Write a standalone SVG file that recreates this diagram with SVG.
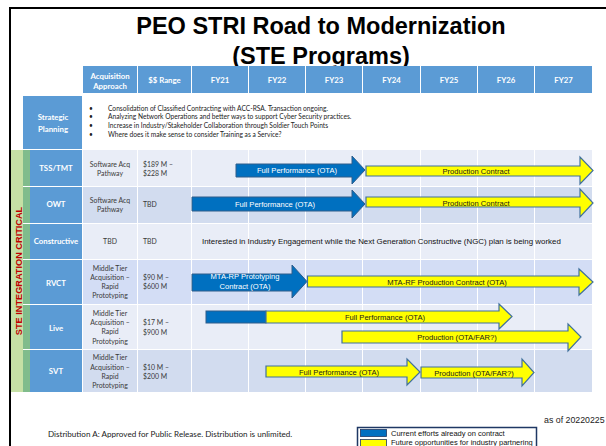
<svg xmlns="http://www.w3.org/2000/svg" width="606" height="446" viewBox="0 0 606 446">
<defs>
<style>
.hdr{fill:#5B9BD5}
.lbl{fill:#5B9BD5}
.ht{font-family:Lato,"Liberation Sans",sans-serif;font-weight:bold;font-size:7.8px;fill:#fff;text-anchor:middle}
.lt{font-family:Lato,"Liberation Sans",sans-serif;font-weight:bold;font-size:7.8px;fill:#fff;text-anchor:middle}
.ct{font-family:Lato,"Liberation Sans",sans-serif;font-size:6.9px;fill:#3a3a3a;text-anchor:middle}
.rt{font-family:Lato,"Liberation Sans",sans-serif;font-size:6.9px;fill:#3a3a3a}
.bt{font-family:Lato,"Liberation Sans",sans-serif;font-size:6.65px;fill:#222}
.rl{fill:#E9EDF7}
.rd{fill:#D2DCEF}
.rv{fill:#D3DDF5}
.dg{fill:#80BC8C}
.blue{fill:#0070C0;stroke:#2E5C8A;stroke-width:1}
.yel{fill:#FFFF00;stroke:#41719C;stroke-width:1.2}
.at{font-family:"Liberation Sans",Arial,sans-serif;font-size:7.6px;text-anchor:middle}
.aw{fill:#fff}
.ay{fill:#1a1a1a}
.grid{stroke:#fff;stroke-width:1}
</style>
</defs>
<rect width="606" height="446" fill="#fff"/>
<g id="frame">
<line x1="10" y1="8" x2="606" y2="8" stroke="#000" stroke-width="2"/>
<line x1="10" y1="7" x2="10" y2="446" stroke="#000" stroke-width="2"/>
</g>
<g id="title" font-family="'Liberation Sans',Arial,sans-serif" font-weight="bold" font-size="23.5" text-anchor="middle" fill="#000">
<text x="321" y="34">PEO STRI Road to Modernization</text>
<text x="321" y="64">(STE Programs)</text>
</g>
<g id="header">
<rect class="hdr" x="83" y="66" width="54" height="27"/>
<rect class="hdr" x="138" y="66" width="53" height="27"/>
<rect class="hdr" x="192" y="66" width="56" height="27"/>
<rect class="hdr" x="249" y="66" width="56" height="27"/>
<rect class="hdr" x="306" y="66" width="56" height="27"/>
<rect class="hdr" x="363" y="66" width="57" height="27"/>
<rect class="hdr" x="421" y="66" width="56" height="27"/>
<rect class="hdr" x="478" y="66" width="56" height="27"/>
<rect class="hdr" x="535" y="66" width="57" height="27"/>
<text class="ht" x="110" y="78.5">Acquisition</text>
<text class="ht" x="110" y="89">Approach</text>
<text class="ht" x="164.5" y="83">$$ Range</text>
<text class="ht" x="220" y="83">FY21</text>
<text class="ht" x="277" y="83">FY22</text>
<text class="ht" x="334" y="83">FY23</text>
<text class="ht" x="391.5" y="83">FY24</text>
<text class="ht" x="449" y="83">FY25</text>
<text class="ht" x="506" y="83">FY26</text>
<text class="ht" x="563.5" y="83">FY27</text>
</g>
<g id="strategic">
<rect class="lbl" x="23" y="96" width="59" height="53"/>
<text class="lt" x="53" y="120">Strategic</text>
<text class="lt" x="53" y="132">Planning</text>
<g class="bt">
<text x="89" y="110.5">•</text><text x="108" y="110.5">Consolidation of Classified Contracting with ACC-RSA. Transaction ongoing.</text>
<text x="89" y="119.3">•</text><text x="108" y="119.3">Analyzing Network Operations and better ways to support Cyber Security practices.</text>
<text x="89" y="128.1">•</text><text x="108" y="128.1">Increase in Industry/Stakeholder Collaboration through Soldier Touch Points</text>
<text x="89" y="137">•</text><text x="108" y="137">Where does it make sense to consider Training as a Service?</text>
</g>
</g>
<g id="ste-critical">
<rect x="11" y="150" width="12" height="242" fill="#C5E0A5"/>
<text x="22" y="271" transform="rotate(-90 22 271)" font-family="'Liberation Sans',Arial,sans-serif" font-weight="bold" font-size="9.2" fill="#C00000" text-anchor="middle">STE INTEGRATION CRITICAL</text>
</g>
<g id="row-tss">
<rect class="dg" x="23" y="150" width="7" height="36"/>
<rect class="lbl" x="30" y="150" width="52" height="36"/>
<rect class="rl" x="83" y="150" width="509" height="36"/>
<text class="lt" x="56" y="171">TSS/TMT</text>
<text class="ct" x="110" y="166.5">Software Acq</text>
<text class="ct" x="110" y="175.5">Pathway</text>
<text class="rt" x="143" y="166.5">$189 M –</text>
<text class="rt" x="143" y="175.5">$228 M</text>
</g>
<g id="row-owt">
<rect class="dg" x="23" y="187" width="7" height="36"/>
<rect class="lbl" x="30" y="187" width="52" height="36"/>
<rect class="rd" x="83" y="187" width="509" height="36"/>
<text class="lt" x="56" y="207">OWT</text>
<text class="ct" x="110" y="203">Software Acq</text>
<text class="ct" x="110" y="212">Pathway</text>
<text class="rt" x="143" y="206.5">TBD</text>
</g>
<g id="row-constructive">
<rect class="dg" x="23" y="224" width="7" height="35"/>
<rect class="lbl" x="30" y="224" width="52" height="35"/>
<rect class="rl" x="83" y="224" width="509" height="35"/>
<text class="lt" x="56" y="243.5">Constructive</text>
<text class="ct" x="110" y="243.5">TBD</text>
<text class="rt" x="143" y="243.5">TBD</text>
</g>
<g id="row-rvct">
<rect class="dg" x="23" y="260" width="7" height="44"/>
<rect class="lbl" x="30" y="260" width="52" height="44"/>
<rect class="rv" x="83" y="260" width="509" height="44"/>
<text class="lt" x="56" y="285.5">RVCT</text>
<text class="ct" x="110" y="271">Middle Tier</text>
<text class="ct" x="110" y="280">Acquisition –</text>
<text class="ct" x="110" y="289">Rapid</text>
<text class="ct" x="110" y="298">Prototyping</text>
<text class="rt" x="143" y="280">$90 M –</text>
<text class="rt" x="143" y="289">$600 M</text>
</g>
<g id="row-live">
<rect class="dg" x="23" y="305" width="7" height="44"/>
<rect class="lbl" x="30" y="305" width="52" height="44"/>
<rect class="rl" x="83" y="305" width="509" height="44"/>
<text class="lt" x="56" y="330.5">Live</text>
<text class="ct" x="110" y="316">Middle Tier</text>
<text class="ct" x="110" y="325">Acquisition –</text>
<text class="ct" x="110" y="334">Rapid</text>
<text class="ct" x="110" y="343.5">Prototyping</text>
<text class="rt" x="143" y="325">$17 M –</text>
<text class="rt" x="143" y="334.5">$900 M</text>
</g>
<g id="row-svt">
<rect class="dg" x="23" y="350" width="7" height="42"/>
<rect class="lbl" x="30" y="350" width="52" height="42"/>
<rect class="rd" x="83" y="350" width="509" height="42"/>
<text class="lt" x="56" y="374">SVT</text>
<text class="ct" x="110" y="360">Middle Tier</text>
<text class="ct" x="110" y="369.5">Acquisition –</text>
<text class="ct" x="110" y="378.5">Rapid</text>
<text class="ct" x="110" y="388">Prototyping</text>
<text class="rt" x="143" y="369.5">$10 M –</text>
<text class="rt" x="143" y="378.5">$200 M</text>
</g>
<g id="grid" class="grid">
<line x1="137.5" y1="150" x2="137.5" y2="392"/>
<line x1="191.5" y1="150" x2="191.5" y2="392"/>
<line x1="248.5" y1="150" x2="248.5" y2="392"/>
<line x1="305.5" y1="150" x2="305.5" y2="392"/>
<line x1="362.5" y1="150" x2="362.5" y2="392"/>
<line x1="420.5" y1="150" x2="420.5" y2="392"/>
<line x1="477.5" y1="150" x2="477.5" y2="392"/>
<line x1="534.5" y1="150" x2="534.5" y2="392"/>
</g>
<g id="constructive-note">
<text x="202" y="243.5" font-family="'Liberation Sans',Arial,sans-serif" font-size="7.9" fill="#111">Interested in Industry Engagement while the Next Generation Constructive (NGC) plan is being worked</text>
</g>
<g id="connectors">
<path class="blue" d="M236,164 H352 V156 L365,170 L352,184 V177 H236 Z"/>
<path class="yel" d="M366,166 H580 V157 L593,170.5 L580,184 V176 H366 Z"/>
<path class="blue" d="M192,197 H352 V190 L365,204 L352,218 V211 H192 Z"/>
<path class="yel" d="M366,197 H580 V189 L593,203 L580,217 V207 H366 Z"/>
<path class="blue" d="M192,274 H292 V265 L307,281.5 L292,298 V291 H192 Z"/>
<path class="yel" d="M307.5,276 H579 V269 L593,282 L579,295 V287 H307.5 Z"/>
<rect class="blue" x="206" y="311" width="60" height="12"/>
<path class="yel" d="M266,311 H499 V304 L512,316.5 L499,329 V323 H266 Z"/>
<path class="yel" d="M342,331 H568 V324 L581,337 L568,351 V343 H342 Z"/>
<path class="yel" d="M266,366 H407 V359 L420,372 L407,385 V377 H266 Z"/>
<path class="yel" d="M421,367 H522 V359 L534,372.5 L522,386 V378 H421 Z"/>
<g class="at">
<text class="aw" x="297" y="172.5">Full Performance (OTA)</text>
<text class="ay" x="476" y="173.5">Production Contract</text>
<text class="aw" x="275" y="206.5">Full Performance (OTA)</text>
<text class="ay" x="476" y="205.5">Production Contract</text>
<text class="aw" x="245" y="279">MTA-RP Prototyping</text>
<text class="aw" x="245" y="288.5">Contract (OTA)</text>
<text class="ay" x="447" y="284.5">MTA-RF Production Contract (OTA)</text>
<text class="ay" x="385" y="320">Full Performance (OTA)</text>
<text class="ay" x="457" y="340">Production (OTA/FAR?)</text>
<text class="ay" x="339" y="374.5">Full Performance (OTA)</text>
<text class="ay" x="474" y="375.5">Production (OTA/FAR?)</text>
</g>
</g>
<g id="footer">
<text x="544" y="423" font-family="'Liberation Sans',Arial,sans-serif" font-size="8.8" fill="#222">as of 20220225</text>
<text x="48" y="437" font-family="Lato,'Liberation Sans',sans-serif" font-size="8.1" fill="#222">Distribution A: Approved for Public Release. Distribution is unlimited.</text>
</g>
<g id="legend">
<rect x="357.5" y="427.5" width="179" height="24" fill="#fff" stroke="#1F3864" stroke-width="1.5"/>
<rect x="360.5" y="429.5" width="26" height="7" fill="#0070C0" stroke="#1F3864" stroke-width="0.8"/>
<rect x="360.5" y="439.5" width="26" height="8" fill="#FFFF00" stroke="#1F3864" stroke-width="0.8"/>
<text x="391" y="435.5" font-family="'Liberation Sans',Arial,sans-serif" font-size="7.5" fill="#111">Current efforts already on contract</text>
<text x="391" y="445" font-family="'Liberation Sans',Arial,sans-serif" font-size="7.5" fill="#111">Future opportunities for industry partnering</text>
</g>
</svg>
